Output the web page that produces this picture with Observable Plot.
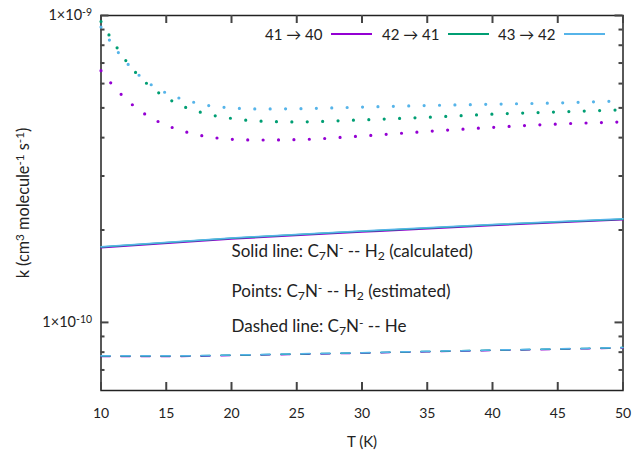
<!DOCTYPE html>
<html><head><meta charset="utf-8">
<script src="https://cdn.jsdelivr.net/npm/d3@7"></script>
<script src="https://cdn.jsdelivr.net/npm/@observablehq/plot@0.6"></script>
<style>
body{margin:0;background:#fff;font-family:Lato,"DejaVu Sans",sans-serif;color:#222;}
#wrap{position:relative;width:635px;height:453px;}
.lg{position:absolute;font-size:15px;line-height:15px;white-space:nowrap;color:#222;}
.sw{position:absolute;height:1.5px;}
</style></head><body><div id="wrap"></div>
<script>
// ---- data ----
const transitions = ["41 → 40", "42 → 41", "43 → 42"];
const colors = ["#9400d3", "#009e73", "#56b4e9"];

// Points (estimated), C7N- -- H2
const T_est = [10, 11, 12, 13, 14, 15, 16, 17, 18, 20, 22, 25, 30, 35, 40, 45, 50];
const est_41_40 = [6.61e-10, 5.86e-10, 5.30e-10, 4.89e-10, 4.60e-10, 4.39e-10, 4.24e-10, 4.12e-10, 4.04e-10, 3.95e-10, 3.93e-10, 3.94e-10, 4.05e-10, 4.19e-10, 4.32e-10, 4.43e-10, 4.50e-10];
const est_42_41 = [9.56e-10, 8.13e-10, 7.04e-10, 6.29e-10, 5.77e-10, 5.40e-10, 5.12e-10, 4.93e-10, 4.79e-10, 4.62e-10, 4.53e-10, 4.50e-10, 4.57e-10, 4.66e-10, 4.77e-10, 4.85e-10, 4.93e-10];
const est_43_42 = [9.17e-10, 7.91e-10, 6.99e-10, 6.34e-10, 5.89e-10, 5.59e-10, 5.38e-10, 5.23e-10, 5.11e-10, 5.00e-10, 4.96e-10, 4.97e-10, 5.03e-10, 5.09e-10, 5.14e-10, 5.19e-10, 5.27e-10];

// Solid line (calculated), C7N- -- H2
const T_calc = [10, 20, 30, 40, 50];
const calc_41_40 = [1.75e-10, 1.87e-10, 1.97e-10, 2.07e-10, 2.16e-10];
const calc_42_41 = [1.76e-10, 1.88e-10, 1.98e-10, 2.08e-10, 2.17e-10];
const calc_43_42 = [1.765e-10, 1.885e-10, 1.985e-10, 2.085e-10, 2.175e-10];

// Dashed line, C7N- -- He
const T_he = [10, 15, 20, 25, 30, 35, 40, 45, 50];
const he_41_40 = [7.74e-11, 7.74e-11, 7.80e-11, 7.87e-11, 7.94e-11, 8.02e-11, 8.10e-11, 8.17e-11, 8.26e-11];
const he_42_41 = [7.77e-11, 7.77e-11, 7.82e-11, 7.89e-11, 7.96e-11, 8.04e-11, 8.12e-11, 8.19e-11, 8.28e-11];
const he_43_42 = [7.78e-11, 7.78e-11, 7.83e-11, 7.90e-11, 7.97e-11, 8.05e-11, 8.13e-11, 8.20e-11, 8.29e-11];

const xTicks = [10, 15, 20, 25, 30, 35, 40, 45, 50];
const yMajor = [1e-10, 1e-9];
const yMajorLabels = ["1×10⁻¹⁰", "1×10⁻⁹"];
const yMinor = [7e-11, 8e-11, 9e-11, 2e-10, 3e-10, 4e-10, 5e-10, 6e-10, 7e-10, 8e-10, 9e-10];

// ---- build tables ----
function rows(Ts, series) {
  const out = [];
  series.forEach((vals, i) => vals.forEach((k, j) => out.push({T: Ts[j], k, trans: transitions[i]})));
  return out;
}
const estRows = rows(T_est, [est_41_40, est_42_41, est_43_42]);
const calcRows = rows(T_calc, [calc_41_40, calc_42_41, calc_43_42]);
const heRows = rows(T_he, [he_41_40, he_42_41, he_43_42]);

const W = 635, H = 453, mL = 100.5, mR = 12.5, mT = 15, mB = 63;
const iw = W - mL - mR, ih = H - mT - mB;
const chart = Plot.plot({
  width: W, height: H,
  marginLeft: mL, marginRight: mR, marginTop: mT, marginBottom: mB,
  style: {fontFamily: 'Lato, "DejaVu Sans", sans-serif', fontSize: "14px", color: "#222", background: "#fff"},
  x: {domain: [10, 50], axis: null},
  y: {type: "log", domain: [6e-11, 1e-9], axis: null},
  color: {domain: transitions, range: colors},
  marks: [
    Plot.frame({stroke: "#222", strokeWidth: 1.5}),
    // inward ticks, mirrored on all four sides
    Plot.tickX(xTicks, {x: d => d, insetTop: ih - 8, stroke: "#444", strokeWidth: 2}),
    Plot.tickX(xTicks, {x: d => d, insetBottom: ih - 8, stroke: "#444", strokeWidth: 2}),
    Plot.tickY(yMajor, {y: d => d, insetRight: iw - 8, stroke: "#444", strokeWidth: 2}),
    Plot.tickY(yMajor, {y: d => d, insetLeft: iw - 8, stroke: "#444", strokeWidth: 2}),
    Plot.tickY(yMinor, {y: d => d, insetRight: iw - 4, stroke: "#444", strokeWidth: 2}),
    Plot.tickY(yMinor, {y: d => d, insetLeft: iw - 4, stroke: "#444", strokeWidth: 2}),
    Plot.line(heRows, {x: "T", y: "k", z: "trans", stroke: "trans", strokeWidth: 1.5, strokeDasharray: "9 11", curve: "monotone-x"}),
    Plot.line(calcRows, {x: "T", y: "k", z: "trans", stroke: "trans", strokeWidth: 1.5, curve: "monotone-x"}),
    Plot.line(estRows, {x: "T", y: "k", z: "trans", stroke: "trans", strokeWidth: 3.2, strokeDasharray: "0 15.4", strokeLinecap: "round", curve: "monotone-x"}),
    Plot.axisX(xTicks, {anchor: "bottom", tickSize: 0, tickPadding: 18, label: null, tickFormat: d => String(d), fill: "#222"}),
    Plot.axisY(yMajor, {anchor: "left", tickSize: 0, tickPadding: 9, label: null, fontSize: 14.5, tickFormat: d => yMajorLabels[yMajor.indexOf(d)], fill: "#222"}),
    Plot.text(["T (K)"], {text: d => d, frameAnchor: "bottom", lineAnchor: "middle", dy: 52, fill: "#222", fontSize: 15}),
    Plot.text(["k (cm³ molecule⁻¹ s⁻¹)"], {text: d => d, frameAnchor: "left", textAnchor: "middle", lineAnchor: "middle", dx: -77, rotate: -90, fill: "#222", fontSize: 16.3}),
    Plot.text(["Solid line: C₇N⁻ -- H₂ (calculated)"], {text: d => d, frameAnchor: "top-left", lineAnchor: "middle", dx: 130.5, dy: 236.5, textAnchor: "start", fill: "#222", fontSize: 17}),
    Plot.text(["Points: C₇N⁻ -- H₂ (estimated)"], {text: d => d, frameAnchor: "top-left", lineAnchor: "middle", dx: 130.5, dy: 276, textAnchor: "start", fill: "#222", fontSize: 17}),
    Plot.text(["Dashed line: C₇N⁻ -- He"], {text: d => d, frameAnchor: "top-left", lineAnchor: "middle", dx: 130.5, dy: 311.5, textAnchor: "start", fill: "#222", fontSize: 17})
  ]
});
const wrap = document.getElementById("wrap");
wrap.appendChild(chart);

// render unicode super/subscripts as shifted tspans
const SUP = "⁰¹²³⁴⁵⁶⁷⁸⁹⁻", SUB = "₀₁₂₃₄₅₆₇₈₉", NORM = "0123456789-";
chart.querySelectorAll("text").forEach(el => {
  if (el.querySelector("tspan")) return;
  const s = el.textContent;
  if (![...s].some(c => SUP.includes(c) || SUB.includes(c))) return;
  const runs = [];
  for (const c of s) {
    const type = SUP.includes(c) ? "sup" : SUB.includes(c) ? "sub" : "n";
    const ch = type === "sup" ? NORM[SUP.indexOf(c)] : type === "sub" ? NORM[SUB.indexOf(c)] : c;
    if (runs.length && runs[runs.length - 1].type === type) runs[runs.length - 1].t += ch;
    else runs.push({type, t: ch});
  }
  el.textContent = "";
  for (const r of runs) {
    const t = document.createElementNS("http://www.w3.org/2000/svg", "tspan");
    t.textContent = r.t;
    if (r.type !== "n") {
      t.setAttribute("font-size", "72%");
      t.setAttribute("baseline-shift", r.type === "sup" ? "38%" : "-22%");
    }
    el.appendChild(t);
  }
});

// legend overlay (inside plot, top right)
const textLeft = [265, 382, 498];
const swLeft = [331, 448, 564];
transitions.forEach((t, i) => {
  const s = document.createElement("div");
  s.className = "lg"; s.textContent = t;
  s.style.left = textLeft[i] + "px"; s.style.top = "27px";
  wrap.appendChild(s);
  const w = document.createElement("div");
  w.className = "sw"; w.style.background = colors[i];
  w.style.left = swLeft[i] + "px"; w.style.top = "33px"; w.style.width = "41px";
  wrap.appendChild(w);
});
</script></body></html>
